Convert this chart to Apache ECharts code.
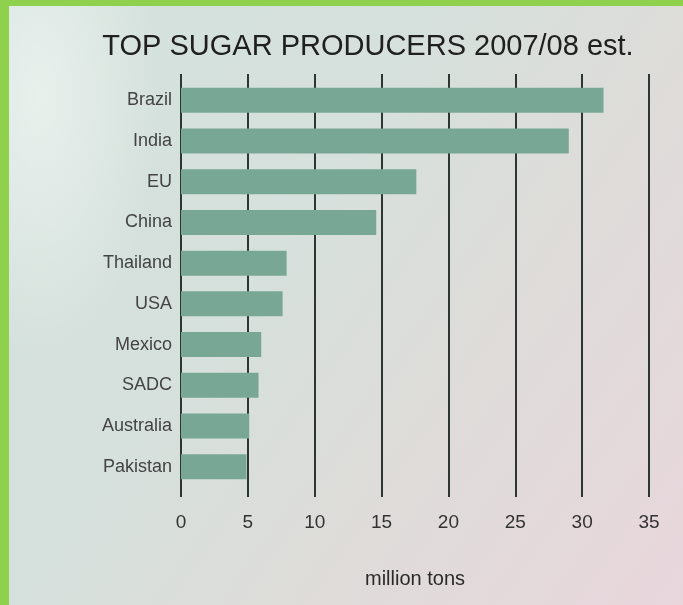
<!DOCTYPE html>
<html>
<head>
<meta charset="utf-8">
<script src="https://cdn.jsdelivr.net/npm/echarts@6/dist/echarts.min.js"></script>
<style>
  html, body { margin: 0; padding: 0; }
  #frame {
    position: absolute; left: 0; top: 0; width: 683px; height: 605px;
    box-sizing: border-box;
    border-left: 9px solid #8fd14d; border-top: 6px solid #8fd14d;
    background:
      radial-gradient(ellipse 120px 260px at 30px 90px, rgba(246,250,247,0.6), rgba(246,250,247,0) 100%),
      linear-gradient(125deg, #d4e2dd 0%, #d6e0dc 40%, #dedcd9 65%, #e8d6dc 100%);
  }
  #main { position: absolute; left: 0; top: 0; width: 683px; height: 605px; }
</style>
</head>
<body>
<div id="frame"></div>
<div id="main"></div>
<script>
const countries = ["Brazil", "India", "EU", "China", "Thailand", "USA", "Mexico", "SADC", "Australia", "Pakistan"];
const production = [31.6, 29.0, 17.6, 14.6, 7.9, 7.6, 6.0, 5.8, 5.1, 4.9];
const axisTicks = [0, 5, 10, 15, 20, 25, 30, 35];

const chart = echarts.init(document.getElementById("main"));

const font = "Liberation Sans, Arial, sans-serif";
const lineColor = "#2c3632";

var option = {
  backgroundColor: "transparent",
  title: {
    text: "TOP SUGAR PRODUCERS 2007/08 est.",
    left: 363,
    top: 27,
    textAlign: "center",
    textStyle: { fontFamily: font, fontSize: 29, fontWeight: "normal", color: "#202020" }
  },
  grid: { left: 181, right: 34, top: 80, bottom: 118 },
  xAxis: [
    {
      type: "value",
      position: "bottom",
      min: axisTicks[0],
      max: axisTicks[axisTicks.length - 1],
      interval: 5,
      axisLine: { show: false },
      axisTick: { show: true, length: 10, lineStyle: { color: lineColor, width: 2 } },
      axisLabel: { margin: 26, fontFamily: font, fontSize: 19, color: "#333" },
      splitLine: { show: true, lineStyle: { color: lineColor, width: 2 } },
      name: "million tons",
      nameLocation: "middle",
      nameGap: 82,
      nameTextStyle: { fontFamily: font, fontSize: 20, color: "#2a2a2a" }
    },
    {
      type: "value",
      position: "top",
      min: axisTicks[0],
      max: axisTicks[axisTicks.length - 1],
      interval: 5,
      axisLine: { show: false },
      axisTick: { show: true, length: 6, lineStyle: { color: lineColor, width: 2 } },
      axisLabel: { show: false },
      splitLine: { show: false }
    }
  ],
  yAxis: {
    type: "category",
    data: countries,
    inverse: true,
    axisLine: { show: false },
    axisTick: { show: false },
    axisLabel: { margin: 9, fontFamily: font, fontSize: 18, color: "#444" }
  },
  series: [
    {
      type: "bar",
      data: production,
      barWidth: 25,
      itemStyle: { color: "#78a895" },
      z: 3
    }
  ]
};

chart.setOption(option, true);
</script>
</body>
</html>
